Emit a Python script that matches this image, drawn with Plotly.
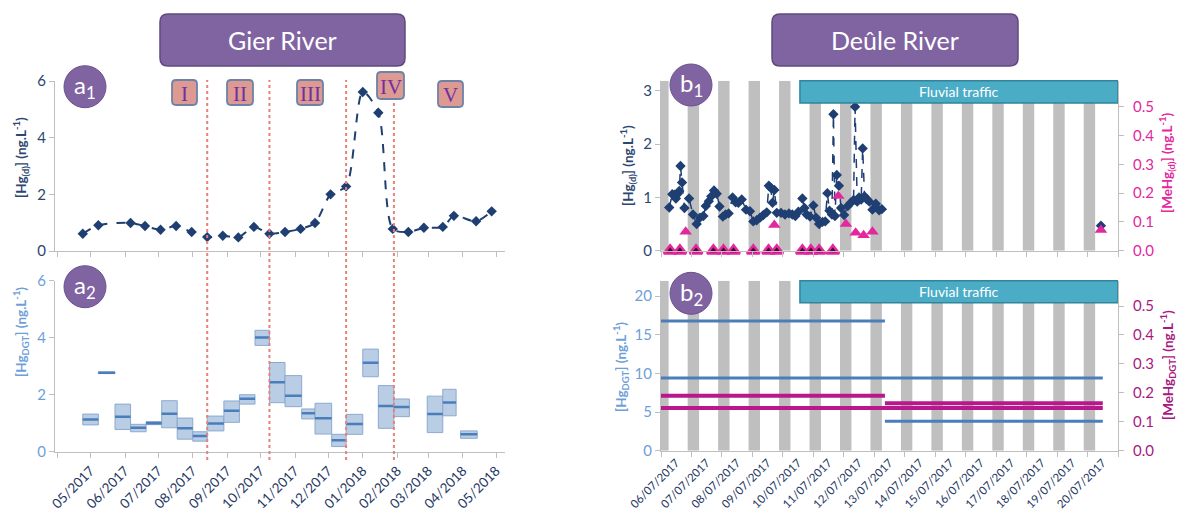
import plotly.graph_objects as go
import pandas as pd

W, H = 1182, 529

# ---------------- Gier River (a1): dissolved Hg, biweekly grab samples
a1_dates = ['2017-04-24', '2017-05-08', '2017-06-06', '2017-06-19', '2017-07-03', '2017-07-17',
            '2017-07-31', '2017-08-14', '2017-08-28', '2017-09-11', '2017-09-25', '2017-10-09',
            '2017-10-23', '2017-11-06', '2017-11-19', '2017-12-03', '2017-12-17', '2018-01-01',
            '2018-01-15', '2018-01-28', '2018-02-11', '2018-02-25', '2018-03-14', '2018-03-24',
            '2018-04-13', '2018-04-27']
a1_hg = [0.61, 0.91, 0.99, 0.88, 0.75, 0.88, 0.67, 0.49, 0.54, 0.48, 0.85, 0.61, 0.67, 0.78,
         0.99, 2.00, 2.28, 5.61, 4.88, 0.78, 0.67, 0.82, 0.85, 1.24, 1.05, 1.40]

# ---------------- Gier River (a2): DGT deployments (min / mean / max)
dgt_start = ['2017-04-24', '2017-05-08', '2017-05-23', '2017-06-06', '2017-06-20', '2017-07-04',
             '2017-07-18', '2017-08-01', '2017-08-14', '2017-08-29', '2017-09-12', '2017-09-26',
             '2017-10-09', '2017-10-23', '2017-11-07', '2017-11-19', '2017-12-04', '2017-12-17',
             '2018-01-01', '2018-01-15', '2018-01-29', '2018-02-28', '2018-03-14', '2018-03-30']
dgt_end = ['2017-05-08', '2017-05-23', '2017-06-06', '2017-06-20', '2017-07-04', '2017-07-18',
           '2017-08-01', '2017-08-14', '2017-08-29', '2017-09-12', '2017-09-26', '2017-10-09',
           '2017-10-23', '2017-11-07', '2017-11-19', '2017-12-04', '2017-12-17', '2018-01-01',
           '2018-01-15', '2018-01-29', '2018-02-12', '2018-03-14', '2018-03-26', '2018-04-14']
dgt_min = [0.94, 2.74, 0.78, 0.70, 0.95, 0.84, 0.44, 0.37, 0.73, 1.03, 1.67, 3.73,
           1.72, 1.58, 1.15, 0.62, 0.18, 0.61, 2.63, 0.82, 1.23, 0.67, 1.26, 0.47]
dgt_mean = [1.13, 2.77, 1.23, 0.84, 1.00, 1.33, 0.82, 0.55, 0.99, 1.44, 1.86, 4.01,
            2.44, 1.96, 1.35, 1.17, 0.40, 0.97, 3.12, 1.60, 1.57, 1.32, 1.73, 0.61]
dgt_max = [1.32, 2.80, 1.67, 0.96, 1.06, 1.79, 1.18, 0.70, 1.25, 1.78, 2.00, 4.26,
           3.13, 2.67, 1.50, 1.70, 0.61, 1.31, 3.60, 2.32, 1.85, 1.95, 2.19, 0.73]

event_dates = ['2017-08-14', '2017-10-09', '2017-12-17', '2018-01-29']
period_labels = ['I', 'II', 'III', 'IV', 'V']

month_ticks = ['2017-04-01', '2017-05-01', '2017-06-01', '2017-07-01', '2017-08-01', '2017-09-01',
               '2017-10-01', '2017-11-01', '2017-12-01', '2018-01-01', '2018-02-01', '2018-03-01',
               '2018-04-01', '2018-05-01']
month_labels = ['', '05/2017', '06/2017', '07/2017', '08/2017', '09/2017', '10/2017', '11/2017',
                '12/2017', '01/2018', '02/2018', '03/2018', '04/2018', '05/2018']

# ---------------- Deûle River (time in days since 06/07/2017 00:00)
day_labels = ['06/07/2017', '07/07/2017', '08/07/2017', '09/07/2017', '10/07/2017',
              '11/07/2017', '12/07/2017', '13/07/2017', '14/07/2017', '15/07/2017',
              '16/07/2017', '17/07/2017', '18/07/2017', '19/07/2017', '20/07/2017']
night_start = [-0.125, 0.875, 1.875, 2.875, 3.875, 4.875, 5.875, 6.875, 7.875, 8.875,
               9.875, 10.875, 11.875, 12.875, 13.875]
night_end = [0.25, 1.25, 2.25, 3.25, 4.25, 5.25, 6.25, 7.25, 8.25, 9.25,
             10.25, 11.25, 12.25, 13.25, 14.25]
traffic_start = 4.56

hgd_t = [0.27, 0.37, 0.44, 0.49, 0.55, 0.60, 0.64, 0.69, 0.77, 0.92, 1.05, 1.17, 1.28, 1.39,
         1.47, 1.57, 1.65, 1.74, 1.83, 1.92, 2.03, 2.12, 2.22, 2.35, 2.45, 2.54, 2.65, 2.79,
         2.92, 3.03, 3.14, 3.25, 3.36, 3.47, 3.54, 3.60, 3.66, 3.72, 3.80, 3.94, 4.07, 4.20,
         4.31, 4.41, 4.51, 4.64, 4.71, 4.78, 4.89, 5.00, 5.09, 5.19, 5.30, 5.39, 5.46, 5.53,
         5.61, 5.66, 5.71, 5.77, 5.84, 5.91, 6.01, 6.13, 6.23, 6.32, 6.37, 6.44, 6.50, 6.57,
         6.62, 6.68, 6.75, 6.84, 6.94, 7.05, 7.16, 7.25]
hgd_v = [0.81, 1.06, 1.05, 0.98, 1.07, 1.12, 1.59, 1.28, 0.80, 0.98, 0.68, 0.50, 0.62, 0.65,
         0.84, 0.93, 1.02, 1.13, 1.07, 0.83, 0.64, 0.68, 0.70, 1.00, 0.91, 0.90, 0.96, 0.77,
         0.74, 0.55, 0.57, 0.62, 0.67, 0.72, 1.22, 1.18, 0.90, 1.14, 0.71, 0.71, 0.68, 0.70,
         0.68, 0.65, 0.73, 0.98, 0.80, 0.68, 0.64, 0.85, 0.62, 0.50, 0.54, 0.55, 1.08, 0.75,
         0.68, 2.56, 0.65, 1.42, 1.22, 0.80, 0.67, 0.84, 0.90, 0.95, 2.70, 0.92, 1.00, 0.96,
         1.92, 1.02, 0.97, 0.92, 0.77, 0.88, 0.76, 0.78]
hgd_late_t = [14.44]
hgd_late_v = [0.47]

mehgd_t = [0.30, 0.62, 0.81, 1.15, 1.72, 2.05, 2.38, 3.03, 3.53, 3.72, 3.80, 4.64, 4.92,
           5.19, 5.64, 5.82, 6.07, 6.39, 6.65, 6.94, 14.44]
mehgd_v = [0.0, 0.0, 0.066, 0.0, 0.0, 0.0, 0.0, 0.0, 0.0, 0.089, 0.0, 0.0, 0.0,
           0.0, 0.0, 0.19, 0.093, 0.062, 0.054, 0.066, 0.072]

hgdgt_start = [0.0, 0.0, 7.35]
hgdgt_end = [7.35, 14.5, 14.5]
hgdgt_val = [16.8, 9.4, 3.8]
mehgdgt_start = [0.0, 0.0, 7.35]
mehgdgt_end = [7.35, 14.5, 14.5]
mehgdgt_val = [0.190, 0.148, 0.164]

# ---------------- colours
NAVY = '#1F3F73'
NAVY_TXT = '#2C4670'
BLUE_TXT = '#6F9FD8'
DGT_BLUE = '#4A7EBB'
PINK = '#E3289E'
PURPLE_MAG = '#A8197F'
MAG_LINE = '#B8188B'
GREY = '#BFBFBF'
VIOLET = '#8064A2'
FONT = 'Lato'

def X(px):
    return px / W

def Y(py):
    return 1 - py / H

fig = go.Figure()

# a1 line
fig.add_trace(go.Scatter(x=a1_dates, y=a1_hg, mode='lines+markers', xaxis='x', yaxis='y',
                         line=dict(color=NAVY, width=2, dash='dash', shape='spline', smoothing=0.8),
                         marker=dict(symbol='diamond', size=8, color=NAVY)))

# a2 DGT boxes
s = pd.to_datetime(dgt_start)
e = pd.to_datetime(dgt_end)
centers = s + (e - s) / 2
widths = [(b - a).total_seconds() * 1000 for a, b in zip(s, e)]
fig.add_trace(go.Bar(x=centers, base=dgt_min, y=[mx - mn for mn, mx in zip(dgt_min, dgt_max)],
                     width=widths, xaxis='x2', yaxis='y2',
                     marker=dict(color='#B9CDE5', line=dict(color='#8EA9CF', width=1))))
mx_, my_ = [], []
for a, b, m in zip(s, e, dgt_mean):
    mx_ += [a, b, None]
    my_ += [m, m, None]
fig.add_trace(go.Scatter(x=mx_, y=my_, mode='lines', xaxis='x2', yaxis='y2',
                         line=dict(color=DGT_BLUE, width=2.5)))

# Deûle night bars
n_c = [(a + b) / 2 for a, b in zip(night_start, night_end)]
n_w = [b - a for a, b in zip(night_start, night_end)]
b1_top = 3.19
b2_top = 22
fig.add_trace(go.Bar(x=n_c, y=[b1_top] * len(n_c), width=n_w, xaxis='x3', yaxis='y3',
                     marker=dict(color=GREY, line=dict(width=0))))
fig.add_trace(go.Bar(x=n_c, y=[b2_top] * len(n_c), width=n_w, xaxis='x4', yaxis='y5',
                     marker=dict(color=GREY, line=dict(width=0))))

# b1 Hg(d)
fig.add_trace(go.Scatter(x=hgd_t, y=hgd_v, mode='lines+markers', xaxis='x3', yaxis='y3',
                         line=dict(color=NAVY, width=1.5, dash='dash'),
                         marker=dict(symbol='diamond', size=8, color=NAVY)))
fig.add_trace(go.Scatter(x=hgd_late_t, y=hgd_late_v, mode='markers', xaxis='x3', yaxis='y3',
                         marker=dict(symbol='diamond', size=8, color=NAVY)))
# b1 MeHg(d)
fig.add_trace(go.Scatter(x=mehgd_t, y=mehgd_v, mode='markers', xaxis='x3', yaxis='y4',
                         cliponaxis=False,
                         marker=dict(symbol='triangle-up', size=11,
                                     color=['#4A0A33' if v == 0 else PINK for v in mehgd_v],
                                     line=dict(color=PINK, width=[2.5 if v == 0 else 0 for v in mehgd_v]))))

# b2 DGT lines
lx, ly = [], []
for a, b, v in zip(hgdgt_start, hgdgt_end, hgdgt_val):
    lx += [a, b, None]
    ly += [v, v, None]
fig.add_trace(go.Scatter(x=lx, y=ly, mode='lines', xaxis='x4', yaxis='y5',
                         line=dict(color=DGT_BLUE, width=3)))
mx2, my2 = [], []
for a, b, v in zip(mehgdgt_start, mehgdgt_end, mehgdgt_val):
    mx2 += [a, b, None]
    my2 += [v, v, None]
fig.add_trace(go.Scatter(x=mx2, y=my2, mode='lines', xaxis='x4', yaxis='y6',
                         line=dict(color=MAG_LINE, width=4)))

common = dict(showline=True, linecolor=GREY, linewidth=1, ticks='outside', tickcolor=GREY,
              ticklen=5, showgrid=False, zeroline=False, automargin=False)
left_x_dom = [X(55), X(505)]
right_x_dom = [X(661), X(1118)]
date_range = ['2017-03-30', '2018-05-09']
day_edges = list(range(len(day_labels) + 1))
label_pos = [i + 0.5 for i in range(len(day_labels))]
minor_days = dict(ticks='outside', tickmode='array', tickvals=day_edges, ticklen=5, tickcolor=GREY)

layout = dict(
    width=W, height=H, autosize=False, margin=dict(l=0, r=0, t=0, b=0, pad=0),
    paper_bgcolor='white', plot_bgcolor='rgba(0,0,0,0)', showlegend=False, barmode='overlay',
    font=dict(family=FONT),
    xaxis=dict(domain=left_x_dom, anchor='y', type='date', range=date_range, tickmode='array',
               tickvals=month_ticks, showticklabels=False, **common),
    yaxis=dict(domain=[Y(251), Y(81)], anchor='x', range=[0, 6], tickvals=[0, 2, 4, 6],
               tickfont=dict(size=15, color=NAVY_TXT), **common),
    xaxis2=dict(domain=left_x_dom, anchor='y2', type='date', range=date_range, tickmode='array',
                tickvals=month_ticks, ticktext=month_labels, tickangle=-45,
                tickfont=dict(size=13.5, color='#1F3864'), **common),
    yaxis2=dict(domain=[Y(451.7), Y(280.7)], anchor='x2', range=[0, 6], tickvals=[0, 2, 4, 6],
                tickfont=dict(size=15, color=BLUE_TXT), **common),
    xaxis3=dict(domain=right_x_dom, anchor='y3', range=[0, 15], tickmode='array', tickvals=label_pos,
                showticklabels=False, showline=True, linecolor=GREY, ticks='', showgrid=False,
                zeroline=False, automargin=False, minor=minor_days),
    yaxis3=dict(domain=[Y(250.7), Y(80.7)], anchor='x3', range=[0, b1_top], tickvals=[0, 1, 2, 3],
                tickfont=dict(size=15, color=NAVY_TXT), **common),
    yaxis4=dict(overlaying='y3', anchor='x3', side='right', range=[0, 0.59],
                tickvals=[0, 0.1, 0.2, 0.3, 0.4, 0.5], tickformat='.1f',
                tickfont=dict(size=15, color=PINK), ticklabelstandoff=6, **common),
    xaxis4=dict(domain=right_x_dom, anchor='y5', range=[0, 15], tickmode='array', tickvals=label_pos,
                ticktext=day_labels, tickangle=-45, tickfont=dict(size=11.5, color='#1F3864'),
                showline=True, linecolor=GREY, ticks='', showgrid=False, zeroline=False,
                automargin=False, minor=minor_days),
    yaxis5=dict(domain=[Y(450.7), Y(280.7)], anchor='x4', range=[0, b2_top],
                tickvals=[0, 5, 10, 15, 20], tickfont=dict(size=15, color=BLUE_TXT), **common),
    yaxis6=dict(overlaying='y5', anchor='x4', side='right', range=[0, 0.5876],
                tickvals=[0, 0.1, 0.2, 0.3, 0.4, 0.5], tickformat='.1f',
                tickfont=dict(size=15, color=PURPLE_MAG), ticklabelstandoff=6, **common),
)
fig.update_layout(**layout)


def rrect(x0, y0, x1, y1, r):
    def P(x, y):
        return f"{x / W:.5f},{1 - y / H:.5f}"
    return (f"M {P(x0 + r, y0)} L {P(x1 - r, y0)} Q {P(x1, y0)} {P(x1, y0 + r)} "
            f"L {P(x1, y1 - r)} Q {P(x1, y1)} {P(x1 - r, y1)} L {P(x0 + r, y1)} "
            f"Q {P(x0, y1)} {P(x0, y1 - r)} L {P(x0, y0 + r)} Q {P(x0, y0)} {P(x0 + r, y0)} Z")


shapes = []
annotations = []


def label(x, y, text, size, color, family=FONT, angle=0, xref='paper'):
    annotations.append(dict(x=x, y=y, xref=xref, yref='paper', text=text, showarrow=False,
                            xanchor='center', yanchor='middle', textangle=angle,
                            font=dict(size=size, color=color, family=family)))


# river title boxes
for (x0, x1, txt) in [(160, 405, 'Gier River'), (772, 1018, 'Deûle River')]:
    shapes.append(dict(type='path', xref='paper', yref='paper', path=rrect(x0, 14, x1, 66, 8),
                       fillcolor='#8064A2', line=dict(color='#5F4A7E', width=1.5)))
    label(X((x0 + x1) / 2), Y(40), txt, 25, 'white')

# red dotted event lines
for d in event_dates:
    shapes.append(dict(type='line', xref='x', yref='paper', x0=d, x1=d, y0=Y(460), y1=Y(80),
                       line=dict(color='#E8807B', width=2, dash='dot')))

# roman period boxes
roman_boxes = [(172, 80, 197, 105), (227, 80, 253, 105), (297, 80, 323, 105),
               (377, 72, 404, 99), (438, 81, 463, 107)]
for lab, (x0, y0, x1, y1) in zip(period_labels, roman_boxes):
    shapes.append(dict(type='path', xref='paper', yref='paper', path=rrect(x0, y0, x1, y1, 4),
                       fillcolor='#DC9A93', line=dict(color='#6D82A8', width=1.8)))
    label(X((x0 + x1) / 2), Y((y0 + y1) / 2 + 1), lab, 21, '#7030A0', family='Liberation Serif')

# fluvial traffic boxes
for (y0, y1, xa) in [(80.7, 103, 'x3'), (280.7, 302.7, 'x4')]:
    shapes.append(dict(type='rect', xref=xa, yref='paper', x0=traffic_start, x1=15,
                       y0=Y(y1), y1=Y(y0), fillcolor='#4BACC6', line=dict(color='#31849B', width=1.5)))
    label((traffic_start + 15) / 2, Y((y0 + y1) / 2), 'Fluvial traffic', 14, 'white', xref=xa)

# panel circles
for (cx, cy, lab) in [(85, 86.7, 'a<sub>1</sub>'), (85, 286.7, 'a<sub>2</sub>'),
                      (691, 85, 'b<sub>1</sub>'), (691, 293.3, 'b<sub>2</sub>')]:
    r = 21
    shapes.append(dict(type='circle', xref='paper', yref='paper', x0=X(cx - r), x1=X(cx + r),
                       y0=Y(cy + r), y1=Y(cy - r), fillcolor=VIOLET, line=dict(color='#6A5290', width=1)))
    label(X(cx), Y(cy), lab, 24, 'white')

# axis titles
titles = [
    (21, 158, '<b>[Hg<sub>(d)</sub>] (ng.L<sup>-1</sup>)</b>', NAVY_TXT),
    (21, 332, '<b>[Hg<sub>DGT</sub>] (ng.L<sup>-1</sup>)</b>', BLUE_TXT),
    (628, 166, '<b>[Hg<sub>(d)</sub>] (ng.L<sup>-1</sup>)</b>', NAVY_TXT),
    (621, 367, '<b>[Hg<sub>DGT</sub>] (ng.L<sup>-1</sup>)</b>', BLUE_TXT),
    (1167, 163, '<b>[MeHg<sub>(d)</sub>] (ng.L<sup>-1</sup>)</b>', PINK),
    (1168, 365, '<b>[MeHg<sub>DGT</sub>] (ng.L<sup>-1</sup>)</b>', PURPLE_MAG),
]
for (x, y, t, c) in titles:
    label(X(x), Y(y), t, 13.5, c, angle=-90)

fig.update_layout(shapes=shapes, annotations=annotations)
fig.write_html('out.html', config={'displayModeBar': False},
               post_script="document.body.style.margin='0';document.body.style.overflow='hidden';")
